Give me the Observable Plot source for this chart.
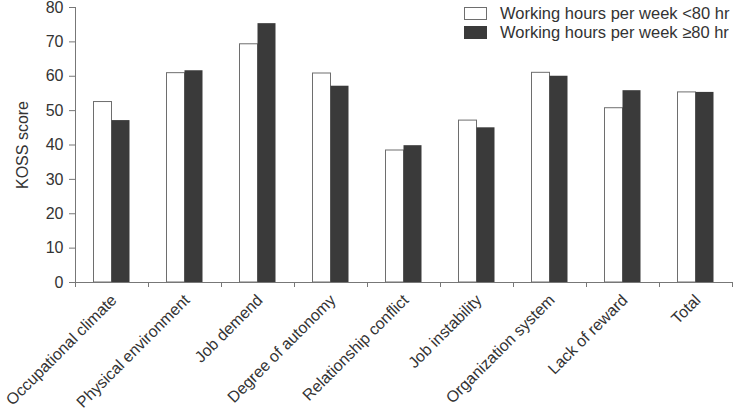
<!DOCTYPE html>
<html><head><meta charset="utf-8">
<script src="https://cdn.jsdelivr.net/npm/d3@7"></script>
<script src="https://cdn.jsdelivr.net/npm/@observablehq/plot@0.6"></script>
<style>
body{margin:0;background:#fff;font-family:"Liberation Sans",Arial,sans-serif;}
#wrap{position:relative;width:733px;height:414px;}
#legend{position:absolute;left:464px;top:4px;font-size:16.5px;color:#333;}
.row{display:flex;align-items:center;height:19px;white-space:nowrap;}
.sw{width:23px;height:13px;margin-right:13px;box-sizing:border-box;}
.sw.a{background:#fff;border:1px solid #6e6e6e;}
.sw.b{background:#3a3a3a;}
</style></head>
<body><div id="wrap"><div id="chart"></div>
<div id="legend"></div></div>
<script>
const categories = ["Occupational climate","Physical environment","Job demend","Degree of autonomy","Relationship conflict","Job instability","Organization system","Lack of reward","Total"];
const lt80 = [52.5, 60.9, 69.3, 60.8, 38.4, 47.1, 61.0, 50.7, 55.3];
const ge80 = [47.1, 61.6, 75.3, 57.1, 39.8, 45.0, 60.0, 55.8, 55.3];
const yTicks = [0,10,20,30,40,50,60,70,80];
const series = ["Working hours per week <80 hr", "Working hours per week \u226580 hr"];

const W=733,H=414,mL=75,mR=1,mT=7,mB=132;
const step=(W-mL-mR)/categories.length;
const barW=18, off=(step-2*barW)/2;
const rows = categories.map((c,i)=>({category:c, lt:lt80[i], ge:ge80[i]}));
const axisColor="#777";

const chart = Plot.plot({
  width:W, height:H, marginLeft:mL, marginRight:mR, marginTop:mT, marginBottom:mB,
  style:{fontFamily:'"Liberation Sans", Arial, sans-serif', fontSize:"16px", color:"#333", background:"#fff"},
  x:{type:"band", domain:categories, padding:0, axis:null},
  y:{domain:[0,80], axis:null},
  marks:[
    Plot.barY(rows,{x:"category", y:"lt", fill:"#fff", stroke:"#6e6e6e", strokeWidth:1, insetLeft:off, insetRight:off+barW}),
    Plot.barY(rows,{x:"category", y:"ge", fill:"#3a3a3a", insetLeft:off+barW, insetRight:off}),
    Plot.ruleY([0],{stroke:axisColor}),
    Plot.frame({anchor:"left", stroke:axisColor}),
    Plot.axisY({ticks:yTicks, tickSize:6, tickPadding:6, fontSize:16, stroke:axisColor, label:"KOSS score", labelAnchor:"center", labelOffset:59, labelArrow:"none"}),
    Plot.axisX({tickSize:5, tickFormat:()=>"", dx:-step/2, stroke:axisColor, label:null}),
    Plot.axisX([categories[categories.length-1]],{tickSize:5, tickFormat:()=>"", dx:step/2, stroke:axisColor, label:null}),
    Plot.axisX({tickSize:0, tickRotate:-45, textAnchor:"end", fontSize:16, label:null, tickPadding:15, dx:2})
  ]
});
document.getElementById("chart").appendChild(chart);

const legend = document.getElementById("legend");
series.forEach((s,i)=>{
  const r=document.createElement("div"); r.className="row";
  const sw=document.createElement("div"); sw.className="sw "+(i===0?"a":"b");
  const t=document.createElement("span"); t.textContent=s;
  r.appendChild(sw); r.appendChild(t); legend.appendChild(r);
});
</script></body></html>
